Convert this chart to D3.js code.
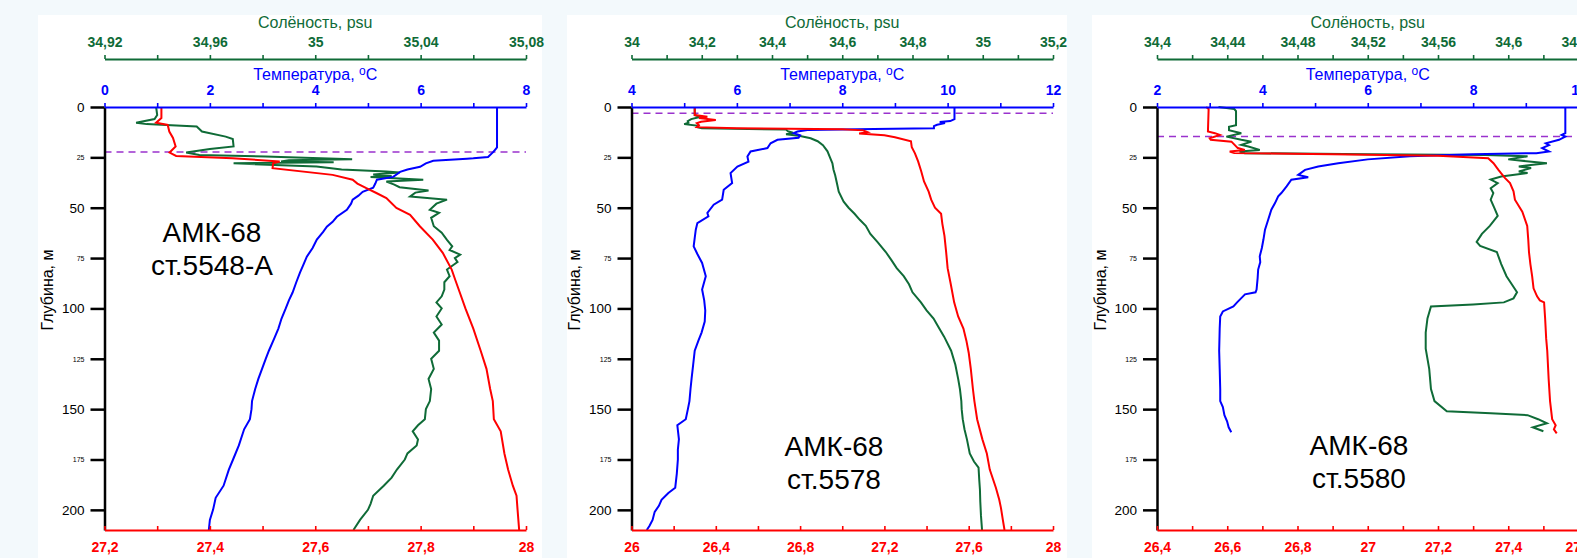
<!DOCTYPE html>
<html>
<head>
<meta charset="utf-8">
<script src="https://cdn.jsdelivr.net/npm/d3@7"></script>
<style>
  body { margin: 0; background: #f3f9fc; }
  svg { display: block; font-family: "Liberation Sans", Arial, sans-serif; }
</style>
</head>
<body>
<svg id="chart" width="1577" height="558"></svg>
<script>
// ---- data: [depth m, value] ----
const depthTicks = [0, 25, 50, 75, 100, 125, 150, 175, 200];
const depthDomain = [0, 210];

const tempDomains = [[0, 8], [4, 12], [2, 10]];
const salDomains  = [[34.92, 35.08], [34, 35.2], [34.4, 34.64]];
const densDomains = [[27.2, 28], [26, 28], [26.4, 27.6]];
const salSteps  = [0.02, 0.1, 0.02];   // minor step, every 2nd tick labelled
const densSteps = [0.1, 0.2, 0.1];
const tempStep = 1;
const mixedLayer = [22.4, 3.1, 14.7];  // dashed line depth
const stationNames = [["АМК-68", "ст.5548-А"], ["АМК-68", "ст.5578"], ["АМК-68", "ст.5580"]];

// station 5548-A
const temp5548 = [[0,7.45],[20,7.45],[21,7.42],[22.3,7.38],[24.8,7.28],[25.5,7.0],[25.7,6.88],[26.7,6.24],[28,6.1],[29.7,5.99],[31,5.75],[32.2,5.61],[34.7,5.48],[36.1,5.17],[38,5.14],[40.1,5.10],[42.1,4.90],[44,4.82],[46,4.71],[48,4.68],[51,4.60],[54.5,4.41],[57,4.33],[59.4,4.22],[62,4.15],[65.8,4.03],[70,3.95],[74.3,3.84],[78,3.78],[82.2,3.71],[87,3.64],[92.1,3.57],[96,3.50],[100,3.44],[105,3.36],[110,3.30],[115,3.22],[121,3.12],[125,3.06],[130,2.99],[135,2.92],[140,2.86],[146,2.80],[150,2.79],[155,2.76],[160,2.65],[168,2.55],[175,2.44],[180,2.36],[188,2.26],[194,2.11],[200,2.06],[205,2.0],[210,1.98]];
const sal5548 = [[0,34.9396],[4,34.940],[6,34.939],[7.8,34.932],[8.5,34.936],[8.9,34.9434],[9.7,34.955],[12.2,34.957],[14.7,34.966],[15.9,34.9687],[19.6,34.969],[20.9,34.960],[22.6,34.951],[23.8,34.956],[24.6,34.981],[25.9,35.014],[26.4,34.99],[27.1,34.987],[27.4,35.007],[27.9,34.969],[28.3,34.975],[29.5,35.0005],[31,35.010],[32,35.027],[32.5,35.032],[33.5,35.022],[34.2,35.029],[34.7,35.021],[36.1,35.041],[37,35.027],[38.5,35.030],[39.8,35.032],[41.4,35.043],[42.5,35.038],[44.4,35.036],[46,35.05],[48,35.046],[51,35.0435],[52.5,35.047],[55,35.044],[59.2,35.045],[62.4,35.048],[66,35.050],[69.2,35.052],[71,35.051],[73.3,35.055],[75,35.053],[77,35.054],[80.7,35.050],[84,35.051],[87,35.049],[90.6,35.049],[94,35.048],[97,35.046],[100,35.048],[104,35.046],[108,35.048],[112,35.045],[116,35.047],[121,35.047],[125,35.044],[130,35.045],[135,35.043],[140,35.044],[146,35.0435],[150,35.042],[155,35.0416],[158,35.039],[161,35.037],[165,35.039],[168,35.0385],[172,35.035],[175,35.034],[180,35.031],[184,35.029],[188,35.026],[193,35.022],[197,35.021],[200,35.020],[205,35.017],[210,35.0145]];
const dens5548 = [[0,27.308],[5.5,27.308],[7.8,27.298],[8.9,27.320],[12.2,27.323],[15.4,27.330],[19.6,27.335],[22.6,27.3235],[24.3,27.336],[25.4,27.443],[27.1,27.5325],[28,27.52],[30.4,27.519],[33.7,27.633],[36.1,27.671],[38,27.68],[40.3,27.697],[42.7,27.716],[45.2,27.735],[50.1,27.754],[53.5,27.78],[59.2,27.7985],[65.8,27.823],[72.4,27.842],[80.7,27.859],[86,27.866],[92.2,27.8745],[100,27.885],[110,27.90],[121,27.914],[130,27.925],[140,27.932],[146,27.937],[155,27.939],[161,27.952],[172,27.959],[180,27.966],[188,27.975],[193,27.982],[200,27.984],[210,27.987]];

// station 5578
const temp5578 = [[0,10.13],[6,10.13],[7,10.05],[7.5,9.85],[8,9.95],[8.8,9.8],[9.5,9.74],[10.5,9.74],[10.9,8.6],[11.4,7.34],[12.2,7.15],[13,7.08],[14,7.2],[15.3,7.17],[16.3,6.77],[18,6.64],[20.4,6.58],[22.1,6.26],[24.6,6.20],[27.1,6.22],[29.6,6.01],[32.8,5.88],[37.8,5.91],[41.1,5.75],[46,5.72],[48.5,5.56],[52.6,5.44],[54.3,5.46],[57.6,5.25],[60.9,5.22],[65,5.20],[69.2,5.18],[73,5.25],[77.4,5.34],[84,5.41],[90.6,5.34],[96,5.38],[101,5.40],[106.5,5.39],[112,5.33],[116,5.27],[121,5.20],[128,5.17],[135,5.14],[140,5.12],[146,5.10],[150,5.07],[155,5.03],[158,4.87],[165,4.9],[170,4.88],[175,4.88],[182,4.86],[189,4.83],[191.6,4.70],[195,4.57],[198,4.52],[201,4.44],[205,4.40],[208,4.34],[210,4.29]];
const sal5578 = [[0,34.18],[4,34.18],[5,34.195],[6,34.17],[7,34.16],[7.8,34.162],[8.5,34.15],[9.3,34.19],[10,34.187],[10.5,34.2],[11.2,34.44],[12,34.445],[12.8,34.46],[13.5,34.44],[14.4,34.48],[15.5,34.51],[17,34.53],[19,34.545],[22,34.558],[25,34.565],[28,34.572],[31,34.575],[34,34.58],[38,34.585],[42,34.59],[47,34.604],[50,34.618],[53,34.635],[56,34.65],[59,34.667],[63,34.68],[67,34.70],[72,34.724],[76,34.74],[80,34.755],[84,34.775],[88,34.79],[92,34.80],[97,34.824],[101,34.84],[105,34.86],[109,34.873],[114,34.89],[121,34.910],[128,34.922],[135,34.93],[140,34.935],[146,34.939],[150,34.94],[155,34.943],[160,34.948],[165,34.955],[172,34.963],[176,34.975],[179,34.988],[185,34.99],[190,34.992],[196,34.993],[203,34.995],[210,34.998]];
const dens5578 = [[0,26.30],[4,26.30],[4.8,26.36],[5.5,26.32],[6.5,26.40],[7.3,26.33],[8,26.31],[9,26.32],[10,26.31],[10.5,26.5],[11,27.0],[11.6,27.1],[12.5,27.12],[13.2,27.08],[14,27.2],[15,27.25],[17,27.326],[20,27.33],[23,27.345],[27,27.36],[32,27.375],[37,27.388],[42,27.41],[46,27.422],[50,27.44],[53,27.469],[58,27.475],[64,27.485],[72,27.493],[80,27.5],[88,27.515],[97,27.531],[104,27.55],[110,27.575],[116,27.589],[122,27.60],[130,27.61],[140,27.62],[146,27.627],[155,27.64],[165,27.665],[172,27.686],[180,27.70],[189,27.729],[195,27.745],[199,27.753],[205,27.762],[210,27.77]];

// station 5580
const temp5580 = [[0,9.75],[13,9.75],[13.9,9.68],[14.7,9.75],[16.3,9.63],[18,9.38],[18.9,9.44],[20.4,9.31],[22.1,9.44],[22.9,9.2],[23.5,8.0],[24.5,6.8],[26,6.0],[27.9,5.44],[29.5,5.06],[31.2,4.81],[33.7,4.68],[34.9,4.87],[36.1,4.55],[39.4,4.46],[42.7,4.36],[44.4,4.30],[47.7,4.24],[51,4.17],[56,4.11],[60.9,4.05],[65.8,4.02],[70,3.99],[74.1,3.95],[77,3.96],[80.7,3.92],[85,3.91],[90.6,3.89],[92,3.87],[93,3.67],[97,3.52],[99,3.45],[101.5,3.25],[104,3.2],[110,3.19],[121,3.18],[130,3.19],[140,3.2],[146,3.2],[149,3.25],[153,3.28],[156,3.33],[159,3.36],[161.5,3.41]];
const sal5580 = [[0,34.435],[1,34.444],[2,34.445],[9,34.445],[9.8,34.441],[11.5,34.441],[13,34.448],[14.7,34.4395],[16.3,34.448],[17.2,34.4538],[18.8,34.448],[19.6,34.452],[21.3,34.4585],[22.1,34.447],[22.9,34.45],[23.5,34.52],[23.8,34.587],[24.5,34.611],[26,34.600],[27.9,34.622],[29.5,34.606],[30.3,34.613],[32,34.606],[32.8,34.611],[34.5,34.596],[36,34.590],[37.8,34.594],[40.3,34.590],[42.7,34.5915],[46,34.59],[50,34.592],[54,34.594],[59,34.5895],[63,34.585],[67,34.582],[69,34.584],[72,34.5935],[78,34.596],[84,34.599],[88,34.602],[92,34.605],[95,34.603],[97,34.5975],[98,34.58],[99,34.556],[105,34.554],[112,34.553],[120,34.553],[130,34.555],[140,34.556],[146,34.558],[151,34.565],[152,34.59],[153,34.611],[155,34.617],[157,34.622],[159,34.614],[161,34.620]];
const dens5580 = [[0,26.54],[1,26.547],[12.2,26.545],[13,26.565],[13.9,26.579],[15.5,26.55],[16.3,26.553],[17.2,26.612],[18.8,26.621],[20.4,26.63],[21.3,26.65],[22.1,26.607],[22.9,26.62],[23.5,26.9],[24.2,27.2],[25.4,27.343],[27.9,27.358],[31.2,27.372],[33,27.38],[35.3,27.391],[37.8,27.405],[41.9,27.415],[46,27.419],[52,27.44],[59,27.454],[66,27.457],[72,27.459],[78,27.463],[84,27.468],[90,27.472],[94,27.482],[96,27.49],[97,27.502],[105,27.505],[115,27.508],[121,27.511],[135,27.515],[146,27.519],[155,27.525],[158,27.535],[160,27.53],[162,27.538]];

const temps = [temp5548, temp5578, temp5580];
const sals = [sal5548, sal5578, sal5580];
const denss = [dens5548, dens5578, dens5580];

// ---- layout ----
const panelLeft = [104.5, 631.5, 1157];
const panelBg = [[38, 542], [567, 1067], [1092, 1577]];
const namePos = [[212, 242], [834, 456], [1359, 455]];
const plotW = 421.5;
const yTop = 107, yBot = 530;
const salY = 59;

const cBlue = '#0000ff', cGreen = '#0f6b37', cRed = '#ff0000', cPurple = '#9a32cd';

const svg = d3.select('#chart');
const fmt = d => String(d).replace('.', ',');
const makeTicks = (dom, step) => d3.range(Math.round((dom[1] - dom[0]) / step) + 1)
  .map(i => +(dom[0] + i * step).toFixed(3));

const y = d3.scaleLinear().domain(depthDomain).range([yTop, yBot]);

function styleAxis(g, color) {
  g.attr('font-family', null).attr('font-size', null);
  g.select('.domain').attr('stroke', color).attr('stroke-width', 2);
  g.selectAll('.tick line').attr('stroke', color).attr('stroke-width', 1.6);
  g.selectAll('.tick text').attr('fill', color)
    .style('font-weight', 'bold').style('font-size', '14px');
}

panelLeft.forEach((x0, i) => {
  const p = svg.append('g');
  p.append('rect')
    .attr('x', panelBg[i][0]).attr('y', 15)
    .attr('width', panelBg[i][1] - panelBg[i][0]).attr('height', 543)
    .attr('fill', '#fff');

  const xT = d3.scaleLinear().domain(tempDomains[i]).range([x0, x0 + plotW]);
  const xS = d3.scaleLinear().domain(salDomains[i]).range([x0, x0 + plotW]);
  const xD = d3.scaleLinear().domain(densDomains[i]).range([x0, x0 + plotW]);

  // dashed mixed-layer line
  p.append('line')
    .attr('x1', x0).attr('x2', x0 + plotW)
    .attr('y1', y(mixedLayer[i])).attr('y2', y(mixedLayer[i]))
    .attr('stroke', cPurple).attr('stroke-width', 1.5)
    .attr('stroke-dasharray', '7,5');

  const line = sx => d3.line().x(d => sx(d[1])).y(d => y(d[0]));
  p.append('path').datum(sals[i]).attr('d', line(xS))
    .attr('fill', 'none').attr('stroke', cGreen).attr('stroke-width', 2);
  p.append('path').datum(temps[i]).attr('d', line(xT))
    .attr('fill', 'none').attr('stroke', cBlue).attr('stroke-width', 2);
  p.append('path').datum(denss[i]).attr('d', line(xD))
    .attr('fill', 'none').attr('stroke', cRed).attr('stroke-width', 2);

  // depth axis
  const gy = p.append('g').attr('transform', `translate(${x0},0)`)
    .call(d3.axisLeft(y).tickValues(depthTicks).tickSize(14).tickPadding(6).tickSizeOuter(0));
  styleAxis(gy, '#000');
  gy.select('.domain').attr('stroke-width', 2.5);
  gy.selectAll('.tick line').attr('stroke-width', 2.5);
  gy.selectAll('.tick text').style('font-weight', 'normal')
    .style('font-size', d => d % 50 === 0 ? '13.5px' : '7px');

  // temperature axis (top)
  const tTicks = makeTicks(tempDomains[i], tempStep);
  const gt = p.append('g').attr('transform', `translate(0,${yTop})`)
    .call(d3.axisTop(xT).tickValues(tTicks).tickSize(4).tickPadding(8.5).tickSizeOuter(0)
      .tickFormat((d, k) => k % 2 === 0 ? fmt(d) : ''));
  styleAxis(gt, cBlue);

  // salinity axis (top, upper)
  const sTicks = makeTicks(salDomains[i], salSteps[i]);
  const gs = p.append('g').attr('transform', `translate(0,${salY})`)
    .call(d3.axisTop(xS).tickValues(sTicks).tickSize(4).tickPadding(8).tickSizeOuter(0)
      .tickFormat((d, k) => k % 2 === 0 ? fmt(d) : ''));
  styleAxis(gs, cGreen);

  // density axis (bottom)
  const dTicks = makeTicks(densDomains[i], densSteps[i]);
  const gd = p.append('g').attr('transform', `translate(0,${yBot})`)
    .call(d3.axisBottom(xD).tickValues(dTicks).tickSize(-4).tickPadding(12).tickSizeOuter(0)
      .tickFormat((d, k) => k % 2 === 0 ? fmt(d) : ''));
  styleAxis(gd, cRed);

  // axis titles
  const cx = x0 + plotW / 2;
  p.append('text').attr('x', cx).attr('y', 28).attr('text-anchor', 'middle')
    .attr('fill', cGreen).style('font-size', '16px').text('Солёность, psu');
  const tt = p.append('text').attr('x', cx).attr('y', 80).attr('text-anchor', 'middle')
    .attr('fill', cBlue).style('font-size', '16px');
  tt.append('tspan').text('Температура, ');
  tt.append('tspan').attr('dy', -5).style('font-size', '12px').text('o');
  tt.append('tspan').attr('dy', 5).text('C');

  p.append('text')
    .attr('transform', `translate(${x0 - 51.5},290) rotate(-90)`)
    .attr('text-anchor', 'middle').style('font-size', '16px').attr('fill', '#000')
    .text('Глубина, м');

  // station name
  const nm = p.append('text').attr('text-anchor', 'middle').style('font-size', '28px').attr('fill', '#000');
  nm.append('tspan').attr('x', namePos[i][0]).attr('y', namePos[i][1]).text(stationNames[i][0]);
  nm.append('tspan').attr('x', namePos[i][0]).attr('y', namePos[i][1] + 33).text(stationNames[i][1]);
});
</script>
</body>
</html>
